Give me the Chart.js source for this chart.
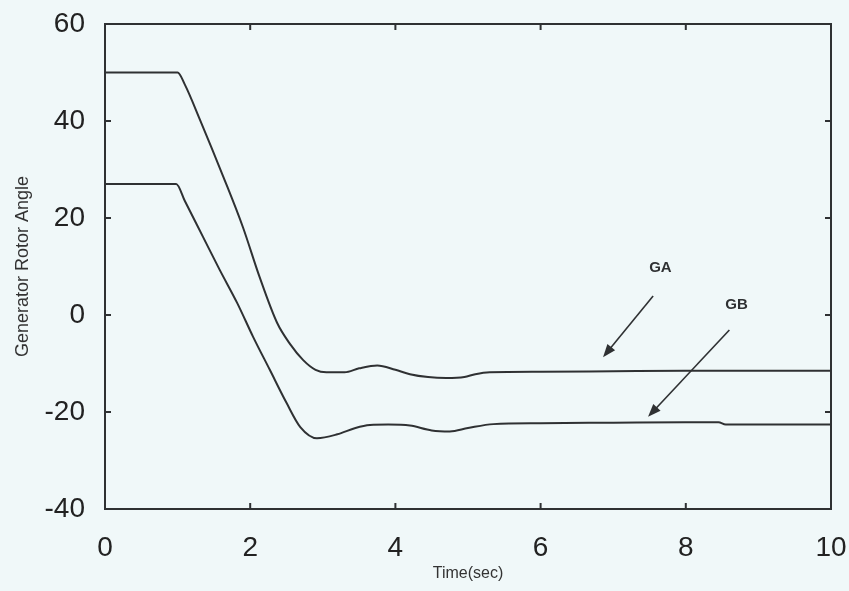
<!DOCTYPE html>
<html lang="en">
<head>
  <meta charset="UTF-8" />
  <title>Generator Rotor Angle</title>
  <script src="https://cdn.jsdelivr.net/npm/chart.js"></script>
  <style>
    html, body {
      margin: 0;
      padding: 0;
      background: #f0f8f9;
    }
    #wrap {
      width: 849px;
      height: 591px;
    }
  </style>
</head>
<body>
  <div id="wrap"><canvas id="rotorChart" width="849" height="591"></canvas></div>

  <script>
    // time axis (sec) and rotor angle samples
    const timeGA = [0, 1.0, 1.1, 1.31, 1.63, 1.9, 2.13, 2.37, 2.55, 2.73, 2.9, 3.05, 3.3, 3.5, 3.75, 4.0, 4.2, 4.45, 4.7, 4.95, 5.1, 5.3, 6, 7, 8, 9, 10];
    const angleGA = [50, 50, 47.5, 40.2, 28.5, 18.1, 7.8, -1.6, -6, -9.3, -11.3, -11.8, -11.8, -11, -10.4, -11.3, -12.2, -12.8, -13, -12.8, -12.2, -11.8, -11.7, -11.6, -11.5, -11.5, -11.5];

    const timeGB = [0, 0.98, 1.1, 1.35, 1.58, 1.82, 2.04, 2.27, 2.5, 2.69, 2.92, 3.2, 3.45, 3.65, 3.9, 4.2, 4.5, 4.75, 5.0, 5.35, 6, 7, 8, 8.45, 8.55, 10];
    const angleGB = [27, 27, 23.5, 16.1, 9.3, 2.5, -4.5, -11.3, -18.1, -23.1, -25.4, -24.6, -23.3, -22.7, -22.6, -22.8, -23.8, -24, -23.3, -22.5, -22.3, -22.2, -22.1, -22.1, -22.6, -22.6];

    const xTicks = [0, 2, 4, 6, 8, 10];
    const yTicks = [-40, -20, 0, 20, 40, 60];
    const seriesNames = ['GA', 'GB'];

    const ink = '#2f3133';

    function toPoints(xs, ys) {
      return xs.map((x, i) => ({ x: x, y: ys[i] }));
    }

    // frame box with inward tick marks on all four sides + arrow labels
    const framePlugin = {
      id: 'frame',
      beforeDraw(chart) {
        const c = chart.ctx;
        c.save();
        c.fillStyle = '#f0f8f9';
        c.fillRect(0, 0, chart.width, chart.height);
        c.restore();
      },
      afterDatasetsDraw(chart, args, opts) {
        const c = chart.ctx;
        const a = chart.chartArea;
        const xs = chart.scales.x, ys = chart.scales.y;
        c.save();
        c.strokeStyle = ink;
        c.lineWidth = 2;
        c.strokeRect(a.left, a.top, a.right - a.left, a.bottom - a.top);
        const tl = 6;
        c.beginPath();
        xTicks.forEach(v => {
          const px = xs.getPixelForValue(v);
          c.moveTo(px, a.bottom); c.lineTo(px, a.bottom - tl);
          c.moveTo(px, a.top); c.lineTo(px, a.top + tl);
        });
        yTicks.forEach(v => {
          const py = ys.getPixelForValue(v);
          c.moveTo(a.left, py); c.lineTo(a.left + tl, py);
          c.moveTo(a.right, py); c.lineTo(a.right - tl, py);
        });
        c.stroke();

        // annotations
        c.fillStyle = ink;
        c.font = 'bold 15px "Liberation Sans", Arial, sans-serif';
        c.textAlign = 'center';
        c.textBaseline = 'middle';
        opts.notes.forEach(n => {
          c.fillText(n.text, xs.getPixelForValue(n.at[0]), ys.getPixelForValue(n.at[1]));
          const x1 = xs.getPixelForValue(n.from[0]), y1 = ys.getPixelForValue(n.from[1]);
          const x2 = xs.getPixelForValue(n.to[0]), y2 = ys.getPixelForValue(n.to[1]);
          const ang = Math.atan2(y2 - y1, x2 - x1);
          c.lineWidth = 1.6;
          c.beginPath();
          c.moveTo(x1, y1);
          c.lineTo(x2 - 8 * Math.cos(ang), y2 - 8 * Math.sin(ang));
          c.stroke();
          c.beginPath();
          c.moveTo(x2, y2);
          c.lineTo(x2 - 13 * Math.cos(ang) + 5 * Math.sin(ang), y2 - 13 * Math.sin(ang) - 5 * Math.cos(ang));
          c.lineTo(x2 - 13 * Math.cos(ang) - 5 * Math.sin(ang), y2 - 13 * Math.sin(ang) + 5 * Math.cos(ang));
          c.closePath();
          c.fill();
        });
        c.restore();
      }
    };

    const ctx = document.getElementById('rotorChart').getContext('2d');
    new Chart(ctx, {
      type: 'line',
      data: {
        datasets: [
          {
            label: seriesNames[0],
            data: toPoints(timeGA, angleGA),
            borderColor: ink,
            borderWidth: 2,
            pointRadius: 0,
            cubicInterpolationMode: 'monotone'
          },
          {
            label: seriesNames[1],
            data: toPoints(timeGB, angleGB),
            borderColor: ink,
            borderWidth: 2,
            pointRadius: 0,
            cubicInterpolationMode: 'monotone'
          }
        ]
      },
      options: {
        responsive: false,
        animation: false,
        layout: {
          padding: { top: 24, right: 18, bottom: 0, left: 0 }
        },
        plugins: {
          legend: { display: false },
          tooltip: { enabled: false },
          frame: {
            notes: [
              { text: seriesNames[0], at: [7.65, 9.7], from: [7.55, 3.9], to: [6.86, -8.7] },
              { text: seriesNames[1], at: [8.7, 2.1], from: [8.6, -3.1], to: [7.48, -21] }
            ]
          }
        },
        scales: {
          x: {
            type: 'linear',
            min: 0,
            max: 10,
            grid: { display: false },
            border: { display: false },
            afterFit(scale) {
              scale.height = 82;
              scale.paddingLeft = 0;
              scale.paddingRight = 0;
            },
            afterBuildTicks(scale) { scale.ticks = xTicks.map(v => ({ value: v })); },
            ticks: {
              color: '#222',
              padding: 14,
              maxRotation: 0,
              font: { family: '"Liberation Sans", Arial, sans-serif', size: 28 }
            },
            title: {
              display: true,
              text: 'Time(sec)',
              color: '#333',
              padding: { top: 0, bottom: 8 },
              font: { family: '"Liberation Sans", Arial, sans-serif', size: 16 }
            }
          },
          y: {
            min: -40,
            max: 60,
            grid: { display: false },
            border: { display: false },
            afterFit(scale) {
              scale.width = 105;
              scale.paddingTop = 0;
              scale.paddingBottom = 0;
            },
            afterBuildTicks(scale) { scale.ticks = yTicks.map(v => ({ value: v })); },
            ticks: {
              color: '#222',
              padding: 12,
              font: { family: '"Liberation Sans", Arial, sans-serif', size: 28 }
            },
            title: {
              display: true,
              text: 'Generator Rotor Angle',
              color: '#333',
              padding: { top: 12, bottom: 0 },
              font: { family: '"Liberation Sans", Arial, sans-serif', size: 18 }
            }
          }
        }
      },
      plugins: [framePlugin]
    });
  </script>
</body>
</html>
